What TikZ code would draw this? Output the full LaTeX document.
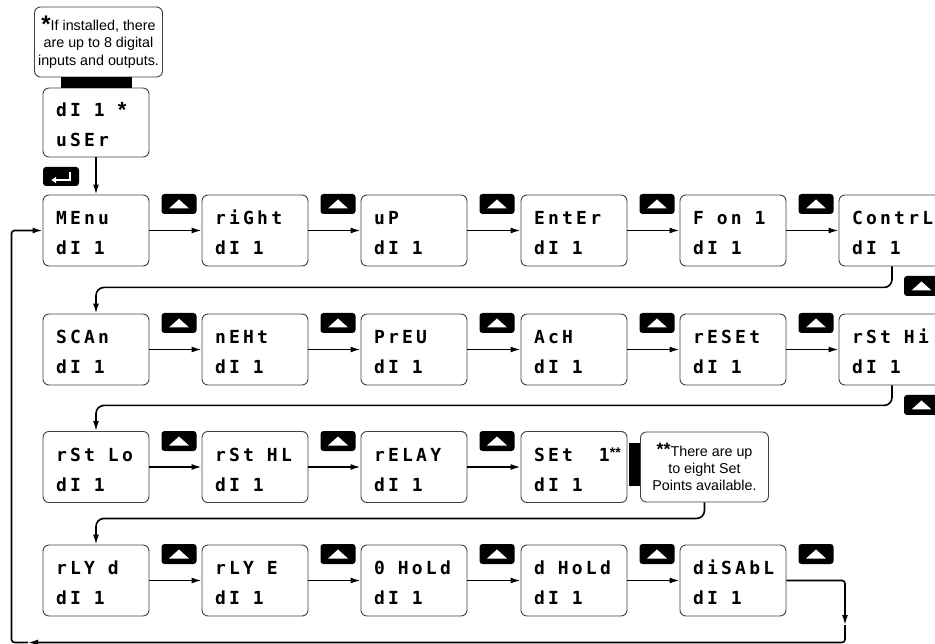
\documentclass[tikz,border=0pt]{standalone}
\usepackage{fontspec}
\newfontfamily\lcdfont[LetterSpace=18]{DejaVu Sans Mono}
\newfontfamily\notefont{Liberation Sans}
\usetikzlibrary{positioning,arrows.meta,calc}
\newcommand{\lcd}[2]{\rule{0pt}{19pt}\mbox{#1}\\\mbox{#2}}
\newcommand{\gap}{\hspace{13pt}}

\begin{document}
\begin{tikzpicture}[x=1pt,y=-1pt,
  disp/.style={draw=black!75,line width=0.9pt,rounded corners=6pt,minimum width=106pt,minimum height=71pt,text width=80pt,align=left,inner xsep=13pt,inner ysep=0pt,font=\lcdfont\bfseries\fontsize{18}{30}\selectfont},
  note/.style={draw=black!75,line width=0.9pt,rounded corners=6pt,minimum width=128pt,minimum height=70pt,align=center,inner sep=2pt,font=\notefont\fontsize{14.3}{17.3}\selectfont},
  upkey/.style={fill=black,rounded corners=3pt,minimum width=35pt,minimum height=20pt,inner sep=0pt,
    path picture={\fill[white,sharp corners] ([shift={(-10pt,-4.5pt)}]path picture bounding box.center) -- ++(20pt,0pt) -- ++(-10pt,9pt) -- cycle;}},
  enterkey/.style={fill=black,rounded corners=3pt,minimum width=36pt,minimum height=19pt,inner sep=0pt,
    path picture={\draw[white,sharp corners,line width=2.2pt,-{Latex[length=5pt,width=7pt]}] ([shift={(9pt,4.5pt)}]path picture bounding box.center) -- ++(0pt,-8pt) -- ++(-19pt,0pt);}},
  conn/.style={line width=1.6pt,rounded corners=8pt},
  >={Latex[length=10pt,width=6pt]}]
  \clip (0,0) rectangle (935,644);

  % notes and the first display
  \node[note] (note1) at (98.5,42) {{\bfseries\fontsize{24}{17}\selectfont\raisebox{-2pt}{*}}If installed, there\\are up to 8 digital\\inputs and outputs.};
  \node[disp,minimum height=69pt] (duser) at (96,122.5) {\lcd{dI\gap 1\gap{\notefont\bfseries\fontsize{22}{17}\selectfont\raisebox{-1pt}{*}}}{uSEr}};
  \fill ($(note1.south)+(-37.5,0)$) rectangle ($(duser.north)+(36,0)$);
  \node[enterkey] (kenter) at (61,176.5) {};

  % row 1
  \node[disp] (dmenu) at (96,230.5) {\lcd{MEnu}{dI\gap 1}};
  \node[disp] (dright) at (255,230.5) {\lcd{riGht}{dI\gap 1}};
  \node[disp] (dup) at (414,230.5) {\lcd{uP}{dI\gap 1}};
  \node[disp] (denter) at (574,230.5) {\lcd{EntEr}{dI\gap 1}};
  \node[disp] (dfon) at (733,230.5) {\lcd{F\gap on\gap 1}{dI\gap 1}};
  \node[disp] (dcontrl) at (892,230.5) {\lcd{ContrL}{dI\gap 1}};

  % row 2
  \node[disp] (dscan) at (96,349.5) {\lcd{SCAn}{dI\gap 1}};
  \node[disp] (dnext) at (255,349.5) {\lcd{nEHt}{dI\gap 1}};
  \node[disp] (dprev) at (414,349.5) {\lcd{PrEU}{dI\gap 1}};
  \node[disp] (dack) at (574,349.5) {\lcd{AcH}{dI\gap 1}};
  \node[disp] (dreset) at (733,349.5) {\lcd{rESEt}{dI\gap 1}};
  \node[disp] (drsthi) at (892,349.5) {\lcd{rSt\gap Hi}{dI\gap 1}};

  % row 3
  \node[disp] (drstlo) at (96,467) {\lcd{rSt\gap Lo}{dI\gap 1}};
  \node[disp] (drsthl) at (255,467) {\lcd{rSt\gap HL}{dI\gap 1}};
  \node[disp] (drelay) at (414,467) {\lcd{rELAY}{dI\gap 1}};
  \node[disp] (dset) at (574,467) {\lcd{SEt\gap\gap 1{\notefont\bfseries\fontsize{14}{14}\selectfont\raisebox{4pt}{**}}}{dI\gap 1}};
  \node[note] (note2) at (704.5,467) {{\bfseries\fontsize{18}{17}\selectfont\raisebox{1pt}{**}}There are up\\to eight Set\\Points available.};
  \fill ($(dset.east)+(2,-24)$) rectangle ($(note2.west)+(0,19)$);

  % row 4
  \node[disp] (drlyd) at (96,580.5) {\lcd{rLY\gap d}{dI\gap 1}};
  \node[disp] (drlye) at (255,580.5) {\lcd{rLY\gap E}{dI\gap 1}};
  \node[disp] (dohold) at (414,580.5) {\lcd{0\gap HoLd}{dI\gap 1}};
  \node[disp] (ddhold) at (574,580.5) {\lcd{d\gap HoLd}{dI\gap 1}};
  \node[disp] (ddisabl) at (733,580.5) {\lcd{diSAbL}{dI\gap 1}};

  % up keys
  \node[upkey] (ka1) at (179,204) {};
  \node[upkey] (ka2) at (338,204) {};
  \node[upkey] (ka3) at (497,204) {};
  \node[upkey] (ka4) at (657,204) {};
  \node[upkey] (ka5) at (816,204) {};
  \node[upkey] (ka6) at (921.5,286) {};
  \node[upkey] (kb1) at (179,323) {};
  \node[upkey] (kb2) at (338,323) {};
  \node[upkey] (kb3) at (497,323) {};
  \node[upkey] (kb4) at (657,323) {};
  \node[upkey] (kb5) at (816,323) {};
  \node[upkey] (kb6) at (921.5,405) {};
  \node[upkey] (kc1) at (179,441) {};
  \node[upkey] (kc2) at (338,441) {};
  \node[upkey] (kc3) at (497,441) {};
  \node[upkey] (kd1) at (179,554) {};
  \node[upkey] (kd2) at (338,554) {};
  \node[upkey] (kd3) at (497,554) {};
  \node[upkey] (kd4) at (657,554) {};
  \node[upkey] (kd5) at (816,554) {};

  % connectors
  \draw[conn,->] (duser.south) -- (dmenu.north);
  \draw[conn,->] (dmenu.east) -- (dright.west);
  \draw[conn,->] (dright.east) -- (dup.west);
  \draw[conn,->] (dup.east) -- (denter.west);
  \draw[conn,->] (denter.east) -- (dfon.west);
  \draw[conn,->] (dfon.east) -- (dcontrl.west);
  \draw[conn,->] (dcontrl.south) -- ++(0,21) -| (dscan.north);
  \draw[conn,->] (dscan.east) -- (dnext.west);
  \draw[conn,->] (dnext.east) -- (dprev.west);
  \draw[conn,->] (dprev.east) -- (dack.west);
  \draw[conn,->] (dack.east) -- (dreset.west);
  \draw[conn,->] (dreset.east) -- (drsthi.west);
  \draw[conn,->] (drsthi.south) -- ++(0,20) -| (drstlo.north);
  \draw[conn,->] (drstlo.east) -- (drsthl.west);
  \draw[conn,->] (drsthl.east) -- (drelay.west);
  \draw[conn,->] (drelay.east) -- (dset.west);
  \draw[conn,->] (note2.south) -- ++(0,16) -| (drlyd.north);
  \draw[conn,->] (drlyd.east) -- (drlye.west);
  \draw[conn,->] (drlye.east) -- (dohold.west);
  \draw[conn,->] (dohold.east) -- (ddhold.west);
  \draw[conn,->] (ddhold.east) -- (ddisabl.west);

  % way back to the menu
  \coordinate (c1) at (845,625);
  \coordinate (c2) at (28,642.5);
  \coordinate (c3) at (11.5,642.5);
  \draw[conn,rounded corners=3pt,->] (ddisabl.east) -| (c1);
  \draw[conn,rounded corners=3pt,->] (c1) |- (c2);
  \draw[conn,rounded corners=3pt,->] (c2) -- (c3) |- (dmenu.west);
\end{tikzpicture}
\end{document}
